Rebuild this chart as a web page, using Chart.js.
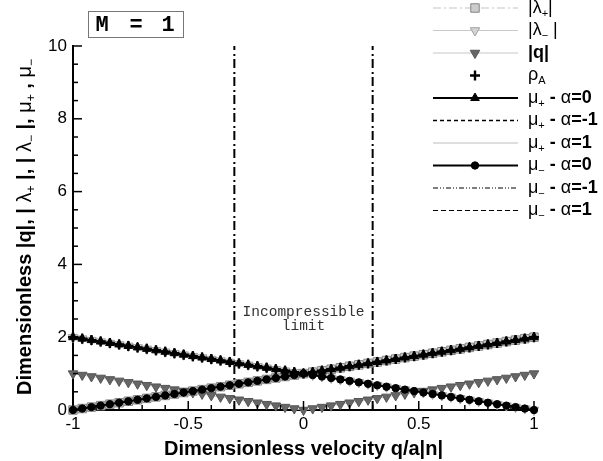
<!DOCTYPE html>
<html>
<head>
<meta charset="utf-8">
<script src="https://cdn.jsdelivr.net/npm/chart.js@4.4.0/dist/chart.umd.min.js"></script>
<style>
html, body { margin: 0; padding: 0; background: #fff; }
</style>
</head>
<body>
<canvas id="myChart" width="603" height="461"></canvas>
<script>
// dimensionless velocity q/a|n|
const velocity = [-1, -0.96, -0.92, -0.88, -0.84, -0.8, -0.76, -0.72, -0.68, -0.64,
  -0.6, -0.56, -0.52, -0.48, -0.44, -0.4, -0.36, -0.32, -0.28, -0.24,
  -0.2, -0.16, -0.12, -0.08, -0.04, 0, 0.04, 0.08, 0.12, 0.16,
  0.2, 0.24, 0.28, 0.32, 0.36, 0.4, 0.44, 0.48, 0.52, 0.56,
  0.6, 0.64, 0.68, 0.72, 0.76, 0.8, 0.84, 0.88, 0.92, 0.96, 1];

const lambdaPlus = [0, 0.04, 0.08, 0.12, 0.16, 0.2, 0.24, 0.28, 0.32, 0.36,
  0.4, 0.44, 0.48, 0.52, 0.56, 0.6, 0.64, 0.68, 0.72, 0.76,
  0.8, 0.84, 0.88, 0.92, 0.96, 1, 1.04, 1.08, 1.12, 1.16,
  1.2, 1.24, 1.28, 1.32, 1.36, 1.4, 1.44, 1.48, 1.52, 1.56,
  1.6, 1.64, 1.68, 1.72, 1.76, 1.8, 1.84, 1.88, 1.92, 1.96, 2];

const lambdaMinus = [2, 1.96, 1.92, 1.88, 1.84, 1.8, 1.76, 1.72, 1.68, 1.64,
  1.6, 1.56, 1.52, 1.48, 1.44, 1.4, 1.36, 1.32, 1.28, 1.24,
  1.2, 1.16, 1.12, 1.08, 1.04, 1, 0.96, 0.92, 0.88, 0.84,
  0.8, 0.76, 0.72, 0.68, 0.64, 0.6, 0.56, 0.52, 0.48, 0.44,
  0.4, 0.36, 0.32, 0.28, 0.24, 0.2, 0.16, 0.12, 0.08, 0.04, 0];

const qMagnitude = [1, 0.96, 0.92, 0.88, 0.84, 0.8, 0.76, 0.72, 0.68, 0.64,
  0.6, 0.56, 0.52, 0.48, 0.44, 0.4, 0.36, 0.32, 0.28, 0.24,
  0.2, 0.16, 0.12, 0.08, 0.04, 0, 0.04, 0.08, 0.12, 0.16,
  0.2, 0.24, 0.28, 0.32, 0.36, 0.4, 0.44, 0.48, 0.52, 0.56,
  0.6, 0.64, 0.68, 0.72, 0.76, 0.8, 0.84, 0.88, 0.92, 0.96, 1];

const rhoA = [2, 1.96, 1.92, 1.88, 1.84, 1.8, 1.76, 1.72, 1.68, 1.64,
  1.6, 1.56, 1.52, 1.48, 1.44, 1.4, 1.36, 1.32, 1.28, 1.24,
  1.2, 1.16, 1.12, 1.08, 1.04, 1, 1.04, 1.08, 1.12, 1.16,
  1.2, 1.24, 1.28, 1.32, 1.36, 1.4, 1.44, 1.48, 1.52, 1.56,
  1.6, 1.64, 1.68, 1.72, 1.76, 1.8, 1.84, 1.88, 1.92, 1.96, 2];

// mu+ is the same for alpha = 0, -1, 1 at M = 1
const muPlus = [2, 1.96, 1.92, 1.88, 1.84, 1.8, 1.76, 1.72, 1.68, 1.64,
  1.6, 1.56, 1.52, 1.48, 1.44, 1.4, 1.36, 1.32, 1.28, 1.24,
  1.2, 1.16, 1.12, 1.08, 1.04, 1, 1.04, 1.08, 1.12, 1.16,
  1.2, 1.24, 1.28, 1.32, 1.36, 1.4, 1.44, 1.48, 1.52, 1.56,
  1.6, 1.64, 1.68, 1.72, 1.76, 1.8, 1.84, 1.88, 1.92, 1.96, 2];

const muMinus = [0, 0.04, 0.08, 0.12, 0.16, 0.2, 0.24, 0.28, 0.32, 0.36,
  0.4, 0.44, 0.48, 0.52, 0.56, 0.6, 0.64, 0.68, 0.72, 0.76,
  0.8, 0.84, 0.88, 0.92, 0.96, 1, 0.96, 0.92, 0.88, 0.84,
  0.8, 0.76, 0.72, 0.68, 0.64, 0.6, 0.56, 0.52, 0.48, 0.44,
  0.4, 0.36, 0.32, 0.28, 0.24, 0.2, 0.16, 0.12, 0.08, 0.04, 0];

const limitVelocity = [-0.3, 0.3];
const xTicks = [-1, -0.5, 0, 0.5, 1];
const yTicks = [0, 2, 4, 6, 8, 10];

const FONT = '"Liberation Sans", Arial, Helvetica, sans-serif';

function pts(ys) {
  return velocity.map((x, i) => ({ x: x, y: ys[i] }));
}

// vertical "incompressible limit" lines, split by a null gap
const limitData = [];
limitVelocity.forEach((v, i) => {
  if (i > 0) limitData.push({ x: v, y: null });
  limitData.push({ x: v, y: yTicks[0] }, { x: v, y: yTicks[yTicks.length - 1] });
});

function ds(label, rich, ys, o) {
  return Object.assign({
    label: label,
    rich: rich,
    data: pts(ys),
    borderWidth: 1.5,
    pointRadius: 0,
    pointBorderWidth: 1,
    clip: false,
    tension: 0
  }, o);
}

const datasets = [
  ds('|λ+|', [{ t: '|λ' }, { t: '+', sub: 1 }, { t: '|' }], lambdaPlus, {
    borderColor: '#c4c4c4', borderDash: [8, 3, 2, 3], borderWidth: 1.2,
    pointStyle: 'rect', pointRadius: 6, pointBackgroundColor: '#cccccc', pointBorderColor: '#858585', order: 10
  }),
  ds('|λ-|', [{ t: '|λ' }, { t: '−', sub: 1 }, { t: ' |' }], lambdaMinus, {
    borderColor: '#c8c8c8', borderWidth: 1.2,
    pointStyle: 'triangle', pointRotation: 180, pointRadius: 5.5, pointBackgroundColor: '#d4d4d4', pointBorderColor: '#a0a0a0', order: 9
  }),
  ds('|q|', [{ t: '|q|', b: 1 }], qMagnitude, {
    borderColor: '#c8c8c8', borderWidth: 1.2,
    pointStyle: 'triangle', pointRotation: 180, pointRadius: 5.5, pointBackgroundColor: '#666666', pointBorderColor: '#555555', order: 8
  }),
  ds('ρA', [{ t: 'ρ' }, { t: 'A', sub: 1 }], rhoA, {
    showLine: false, borderColor: '#000',
    pointStyle: 'cross', pointRadius: 5, pointBorderWidth: 2.4, pointBorderColor: '#000', order: 3
  }),
  ds('μ+ - α=0', [{ t: 'μ' }, { t: '+', sub: 1 }, { t: ' - ', b: 1 }, { t: 'α' }, { t: '=0', b: 1 }], muPlus, {
    borderColor: '#000', borderWidth: 1.8,
    pointStyle: 'triangle', pointRadius: 5, pointBackgroundColor: '#000', pointBorderColor: '#000', order: 2
  }),
  ds('μ+ - α=-1', [{ t: 'μ' }, { t: '+', sub: 1 }, { t: ' - ', b: 1 }, { t: 'α' }, { t: '=-1', b: 1 }], muPlus, {
    borderColor: '#000', borderWidth: 1.3, borderDash: [4, 3], order: 4
  }),
  ds('μ+ - α=1', [{ t: 'μ' }, { t: '+', sub: 1 }, { t: ' - ', b: 1 }, { t: 'α' }, { t: '=1', b: 1 }], muPlus, {
    borderColor: '#bdbdbd', borderWidth: 1.2, order: 7
  }),
  ds('μ- - α=0', [{ t: 'μ' }, { t: '−', sub: 1 }, { t: ' - ', b: 1 }, { t: 'α' }, { t: '=0', b: 1 }], muMinus, {
    borderColor: '#000', borderWidth: 1.8,
    pointStyle: 'circle', pointRadius: 3.7, pointBackgroundColor: '#000', pointBorderColor: '#000', order: 1
  }),
  ds('μ- - α=-1', [{ t: 'μ' }, { t: '−', sub: 1 }, { t: ' - ', b: 1 }, { t: 'α' }, { t: '=-1', b: 1 }], muMinus, {
    borderColor: '#000', borderWidth: 1.2, borderDash: [5, 2, 1, 2, 1, 2], order: 5
  }),
  ds('μ- - α=1', [{ t: 'μ' }, { t: '−', sub: 1 }, { t: ' - ', b: 1 }, { t: 'α' }, { t: '=1', b: 1 }], muMinus, {
    borderColor: '#000', borderWidth: 1.2, borderDash: [5, 3], order: 6
  }),
  {
    label: 'limit', data: limitData, borderColor: '#000', borderWidth: 2,
    borderDash: [9, 3, 2, 4], pointRadius: 0, spanGaps: false, clip: false, order: 11
  }
];

function drawRich(ctx, parts, x, y, size, measureOnly) {
  let cx = x;
  parts.forEach(p => {
    const fs = p.sub ? Math.round(size * 0.62) : size;
    ctx.font = (p.b ? 'bold ' : '') + fs + 'px ' + FONT;
    if (!measureOnly) ctx.fillText(p.t, cx, y + (p.sub ? size * 0.32 : 0));
    cx += ctx.measureText(p.t).width;
  });
  return cx - x;
}

const decor = {
  id: 'decor',
  afterDraw(chart) {
    const ctx = chart.ctx;
    const xs = chart.scales.x, ys = chart.scales.y;
    const area = chart.chartArea;
    ctx.save();
    ctx.strokeStyle = '#000';
    ctx.fillStyle = '#000';

    // inward ticks
    ctx.lineWidth = 1.5;
    for (let v = -1; v <= 1.0001; v += 0.1) {
      const px = xs.getPixelForValue(v);
      const major = Math.abs(v * 2 - Math.round(v * 2)) < 1e-6;
      ctx.beginPath();
      ctx.moveTo(px, area.bottom);
      ctx.lineTo(px, area.bottom - (major ? 9 : 5));
      ctx.stroke();
    }
    for (let v = 0; v <= 10.0001; v += 0.5) {
      const py = ys.getPixelForValue(v);
      const major = Math.abs(v / 2 - Math.round(v / 2)) < 1e-6;
      ctx.beginPath();
      ctx.moveTo(area.left, py);
      ctx.lineTo(area.left + (major ? 9 : 5), py);
      ctx.stroke();
    }

    // y axis title (rotated, mixed fonts)
    const yTitle = [
      { t: 'Dimensionless |q|, | ', b: 1 }, { t: 'λ' }, { t: '+', sub: 1 }, { t: ' |, | ', b: 1 },
      { t: 'λ' }, { t: '−', sub: 1 }, { t: ' |, ', b: 1 }, { t: 'μ' }, { t: '+', sub: 1 },
      { t: ' , ', b: 1 }, { t: 'μ' }, { t: '−', sub: 1 }
    ];
    ctx.textBaseline = 'middle';
    ctx.textAlign = 'left';
    const tw = drawRich(ctx, yTitle, 0, 0, 20, true);
    ctx.save();
    ctx.translate(25, (area.top + area.bottom) / 2 - 1);
    ctx.rotate(-Math.PI / 2);
    drawRich(ctx, yTitle, -tw / 2, 0, 20);
    ctx.restore();

    // legend built from the datasets
    let row = 0;
    chart.data.datasets.forEach(d => {
      if (!d.rich) return;
      const y = 8 + row * 22.5;
      row++;
      if (d.showLine !== false) {
        ctx.save();
        ctx.strokeStyle = d.borderColor;
        ctx.lineWidth = d.borderWidth;
        ctx.setLineDash(d.borderDash || []);
        ctx.beginPath();
        ctx.moveTo(433, y);
        ctx.lineTo(518, y);
        ctx.stroke();
        ctx.restore();
      }
      if (d.pointRadius > 0) {
        ctx.save();
        ctx.fillStyle = d.pointBackgroundColor || '#000';
        ctx.strokeStyle = d.pointBorderColor || '#000';
        ctx.lineWidth = d.pointBorderWidth;
        Chart.helpers.drawPoint(ctx, {
          pointStyle: d.pointStyle, rotation: d.pointRotation || 0,
          radius: d.pointRadius, borderWidth: d.pointBorderWidth
        }, 475, y);
        ctx.restore();
      }
      ctx.fillStyle = '#000';
      drawRich(ctx, d.rich, 528, y, 18);
    });

    // incompressible limit label
    ctx.fillStyle = '#333';
    ctx.textAlign = 'center';
    ctx.font = '14.5px "Liberation Mono", "Courier New", monospace';
    const cxm = xs.getPixelForValue(0);
    ctx.fillText('Incompressible', cxm, 312);
    ctx.fillText('limit', cxm, 326);

    // M = 1 box
    ctx.fillStyle = '#fff';
    ctx.fillRect(88.5, 11.5, 95, 26);
    ctx.strokeStyle = '#777';
    ctx.lineWidth = 1;
    ctx.strokeRect(88.5, 11.5, 95, 26);
    ctx.fillStyle = '#000';
    ctx.font = 'bold 22px "Liberation Mono", "Courier New", monospace';
    ctx.fillText('M', 102, 25);
    ctx.fillText('=', 136, 25);
    ctx.fillText('1', 168, 25);
    ctx.restore();
  }
};

const ctx = document.getElementById('myChart').getContext('2d');
const chart = new Chart(ctx, {
  type: 'line',
  data: { datasets: datasets },
  plugins: [decor],
  options: {
    responsive: false,
    animation: false,
    devicePixelRatio: 1,
    layout: { padding: { left: 0, right: 69, top: 46, bottom: 0 } },
    plugins: { legend: { display: false }, tooltip: { enabled: false } },
    elements: { line: { fill: false } },
    scales: {
      x: {
        type: 'linear',
        min: xTicks[0], max: xTicks[xTicks.length - 1],
        afterBuildTicks: s => { s.ticks = xTicks.map(v => ({ value: v })); },
        afterFit: s => { s.height = 51; },
        grid: { display: true, drawOnChartArea: false, drawTicks: false },
        border: { display: true, color: '#000', width: 2 },
        ticks: { color: '#000', padding: 4, font: { family: FONT, size: 17 }, maxRotation: 0,
          callback: v => String(v) },
        title: { display: true, text: 'Dimensionless velocity q/a|n|', color: '#000', padding: 0,
          font: { family: FONT, size: 20, weight: 'bold' } }
      },
      y: {
        type: 'linear',
        min: yTicks[0], max: yTicks[yTicks.length - 1],
        afterBuildTicks: s => { s.ticks = yTicks.map(v => ({ value: v })); },
        afterFit: s => { s.width = 73; },
        grid: { display: true, drawOnChartArea: false, drawTicks: false },
        border: { display: true, color: '#000', width: 2 },
        ticks: { color: '#000', padding: 6, font: { family: FONT, size: 17 },
          callback: v => String(v) }
      }
    }
  }
});
</script>
</body>
</html>
